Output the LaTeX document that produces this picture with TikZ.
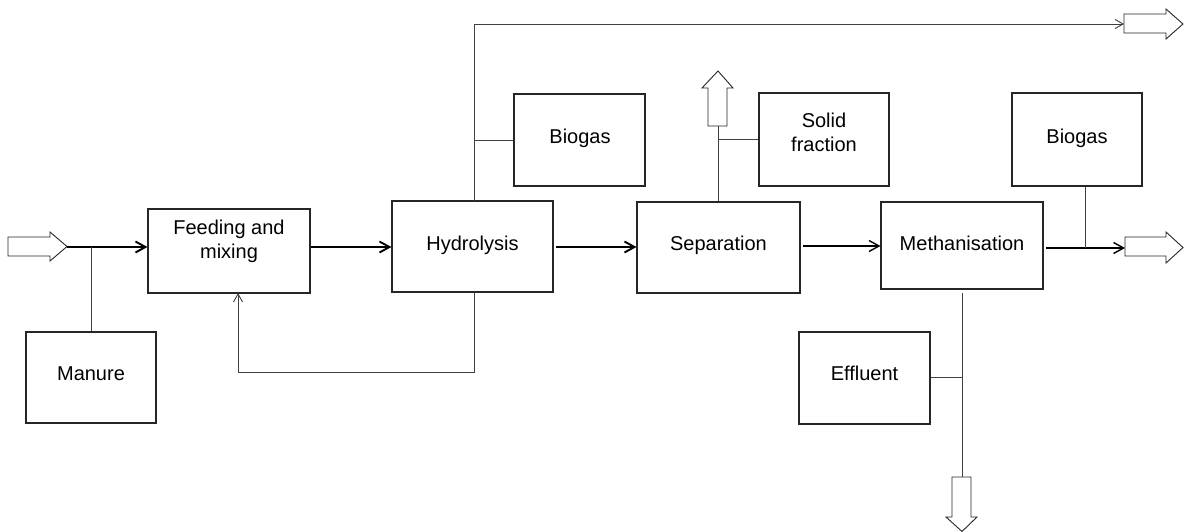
\documentclass[tikz,border=0pt]{standalone}
\usepackage{fontspec}
\setmainfont{Liberation Sans}
\usetikzlibrary{arrows.meta}
\begin{document}
\begin{tikzpicture}[x=1pt,y=-1pt,
  box/.style={draw=black!85,line width=1.1pt,inner sep=0pt,rectangle},
  txt/.style={font=\fontsize{20}{24.5}\selectfont,align=center,inner sep=0pt},
  thin/.style={draw=black!75,line width=0.9pt},
  thick/.style={draw=black,line width=1.9pt},
  mid/.style={draw=black,line width=1.4pt},
  bigtip/.style={-{Straight Barb[length=10pt,width=11pt]}},
  smalltip/.style={-{Straight Barb[length=8pt,width=9pt]}},
  hollow/.style={draw=black!85,line width=0.9pt,fill=white,line join=miter}]
\useasboundingbox (0,0) rectangle (1194,532);

% boxes
\node[box,minimum width=162pt,minimum height=84pt] (feed) at (229,251) {};
\node[box,minimum width=130pt,minimum height=91pt] (manure) at (91,377.5) {};
\node[box,minimum width=161pt,minimum height=91pt] (hydro) at (472.5,246.5) {};
\node[box,minimum width=131pt,minimum height=92pt] (biogasA) at (579.5,140) {};
\node[box,minimum width=163pt,minimum height=91pt] (sep) at (718.5,247.5) {};
\node[box,minimum width=130pt,minimum height=93pt] (solid) at (824,139.5) {};
\node[box,minimum width=162pt,minimum height=87pt] (meth) at (962,245.5) {};
\node[box,minimum width=130pt,minimum height=93pt] (biogasB) at (1077,139.5) {};
\node[box,minimum width=131pt,minimum height=92pt] (effl) at (864.5,378) {};

% texts
\node[txt] (feedT) at (229,241.1) {Feeding and\\mixing};
\node[txt] (manureT) at (91,373.7) {Manure};
\node[txt] (hydroT) at (472.5,245) {Hydrolysis};
\node[txt] (biogasAT) at (580,138.3) {Biogas};
\node[txt] (sepT) at (718.5,245.7) {Separation};
\node[txt] (solidT) at (824,132.5) {Solid\\fraction};
\node[txt] (methT) at (962,243.5) {Methanisation};
\node[txt] (biogasBT) at (1077,138.3) {Biogas};
\node[txt] (efflT) at (864.5,373.7) {Effluent};

% hollow block arrows
\draw[hollow] (8,237) -- (50,237) -- (50,232) -- (67,246.5) -- (50,261) -- (50,256) -- (8,256) -- cycle;
\coordinate (inTip) at (67,247);
\draw[hollow] (1125,237) -- (1166,237) -- (1166,232) -- (1183,247.5) -- (1166,263) -- (1166,256) -- (1125,256) -- cycle;
\coordinate (outTail) at (1125,248);
\draw[hollow] (1124,14) -- (1166,14) -- (1166,9) -- (1183,24) -- (1166,39) -- (1166,33) -- (1124,33) -- cycle;
\coordinate (topTail) at (1124,24);
\draw[hollow] (708,126) -- (708,88) -- (702,88) -- (718,71) -- (733,88) -- (727,88) -- (727,126) -- cycle;
\coordinate (upTail) at (718,126);
\draw[hollow] (952,477) -- (952,517) -- (946,517) -- (962,531.5) -- (977,517) -- (971,517) -- (971,477) -- cycle;
\coordinate (downTail) at (962,477);

% main flow
\draw[thick,bigtip] (inTip) -- (inTip -| feed.west);
\draw[thin] (manure.north) -- (manure.north |- inTip);
\draw[thick,bigtip] (feed.east |- inTip) -- (hydro.west |- inTip);
\draw[thick,bigtip] ([xshift=2pt]hydro.east |- inTip) -- (sep.west |- inTip);
\draw[mid,bigtip] ([xshift=2pt]sep.east |- 0,246) -- (meth.west |- 0,246);
\draw[mid,bigtip] ([xshift=2pt]meth.east |- outTail) -- (outTail);
\draw[thin] (biogasB.south -| 1085,0) -- (1085,248);

% top biogas line
\coordinate (hTop) at (474,201);
\draw[thin,smalltip] (hTop) -- (474,24) -- (topTail);
\draw[thin] (biogasA.west) -- (biogasA.west -| hTop);

% separation up
\draw[thin] (sep.north -| upTail) -- (upTail);
\draw[thin] (solid.west) -- (solid.west -| upTail);

% feedback
\draw[thin,smalltip] (474,292) -- (474,372.5) -- (238,372.5) -- (238,293);

% methanisation down
\draw[thin] (962,293) -- (downTail);
\draw[thin] (effl.east |- 0,377) -- (962,377);
\end{tikzpicture}
\end{document}
